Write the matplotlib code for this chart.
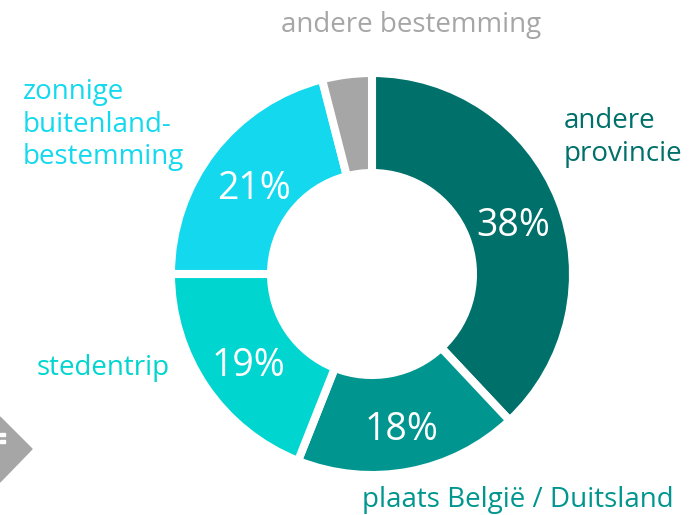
import numpy as np
import matplotlib.pyplot as plt
from matplotlib.patches import Polygon, Rectangle

plt.rcParams['font.family'] = ['Open Sans', 'DejaVu Sans']

# shares, clockwise from 12 o'clock
categories = ['andere provincie', 'plaats België / Duitsland', 'stedentrip',
              'zonnige buitenland-bestemming', 'andere bestemming']
values = [38, 18, 19, 21, 4]
colors = ['#00706a', '#00968f', '#00d5cf', '#14d9ee', '#a6a6a6']
pct_labels = ['38%', '18%', '19%', '21%', '']

W, H = 692, 515
fig = plt.figure(figsize=(W / 100, H / 100), dpi=100)

# donut centre (372, 274) px, outer radius ~201 px (white edge eats ~3 px)
cx, cy, R = 372, 274, 201
ax = fig.add_axes([(cx - R) / W, (H - cy - R) / H, 2 * R / W, 2 * R / H])
wedges, _ = ax.pie(values, colors=colors, startangle=90, counterclock=False,
                   radius=1, wedgeprops=dict(width=0.4975, edgecolor='white', linewidth=5.8))
ax.set_xlim(-1, 1)
ax.set_ylim(-1, 1)
ax.set_aspect('equal')
ax.axis('off')

# percentages in the middle of the ring (baseline a bit below the ring middle)
start = 90
for v, lab in zip(values, pct_labels):
    mid = np.deg2rad(start - v * 3.6 / 2)
    start -= v * 3.6
    if lab:
        ax.text(0.751 * np.cos(mid) + 0.005, 0.751 * np.sin(mid) - 0.087, lab,
                color='white', fontsize=27, ha='center', va='baseline')


def ftext(x, y, s, **kw):
    fig.text(x / W, 1 - y / H, s, va='baseline', **kw)


fs = 20
ftext(411, 32, 'andere bestemming', color=colors[4], fontsize=fs, ha='center')
ftext(564, 128, 'andere', color=colors[0], fontsize=fs)
ftext(564, 161, 'provincie', color=colors[0], fontsize=fs)
ftext(23, 99, 'zonnige', color=colors[3], fontsize=fs)
ftext(23, 132, 'buitenland-', color=colors[3], fontsize=fs)
ftext(23, 164, 'bestemming', color=colors[3], fontsize=fs)
ftext(37, 375, 'stedentrip', color=colors[2], fontsize=fs)
ftext(362, 507, 'plaats België / Duitsland', color=colors[1], fontsize=fs)

# grey arrow tip at the left edge, with the white ends of a cut-off glyph
arrow = Polygon([(0, 1 - 417 / H), (32 / W, 1 - 449 / H), (0, 1 - 482 / H)],
                closed=True, transform=fig.transFigure, color='#a6a6a6')
fig.patches.append(arrow)
for y0 in (433, 440):
    fig.patches.append(Rectangle((0, 1 - (y0 + 3) / H), 5 / W, 3 / H,
                                 transform=fig.transFigure, color='white'))

fig.savefig('out.png', dpi=100)
